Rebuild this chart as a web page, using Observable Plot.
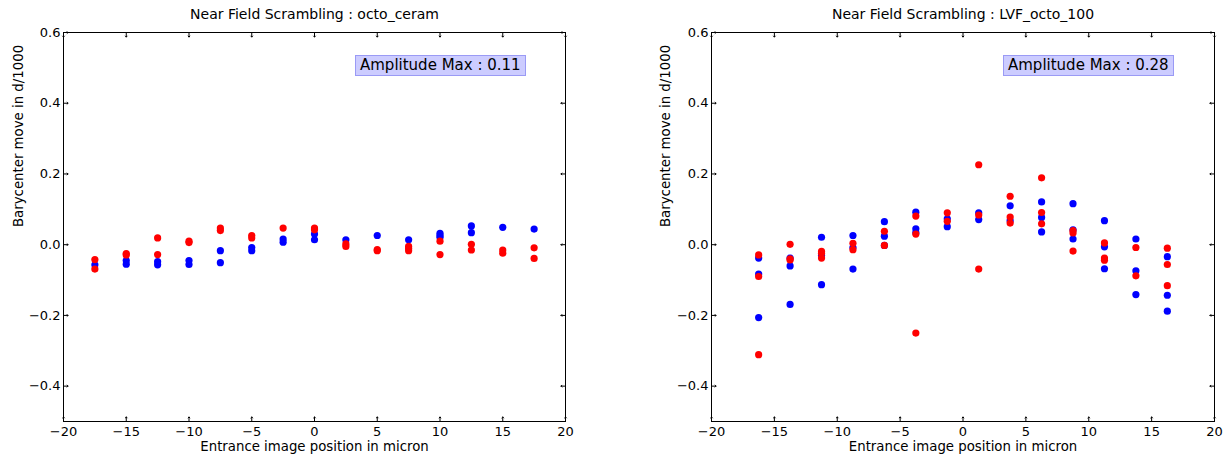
<!DOCTYPE html>
<html>
<head>
<meta charset="utf-8">
<script src="https://cdn.jsdelivr.net/npm/d3@7"></script>
<script src="https://cdn.jsdelivr.net/npm/@observablehq/plot@0.6"></script>
<style>
  html, body { margin: 0; padding: 0; background: #fff; }
  #wrap { position: relative; width: 1232px; height: 457px; font-family: "DejaVu Sans", sans-serif; }
  .panel { position: absolute; top: 0; }
  .amp { position: absolute; box-sizing: border-box; height: 21px; background: #ccccff; border: 1px solid #9a9af5;
         font-family: "DejaVu Sans", sans-serif; font-size: 15px; line-height: 19px; padding: 0 4px; color: #000; white-space: nowrap; }
</style>
</head>
<body>
<div id="wrap"></div>
<script>
// ---- data ----
const titles = ["Near Field Scrambling : octo_ceram", "Near Field Scrambling : LVF_octo_100"];
const amplitudeLabels = ["Amplitude Max : 0.11", "Amplitude Max : 0.28"];
const xLabel = "Entrance image position in micron";
const yLabel = "Barycenter move in d/1000";
const xTicks = [-20, -15, -10, -5, 0, 5, 10, 15, 20];
const yTicks = [-0.4, -0.2, 0.0, 0.2, 0.4, 0.6];

// left panel (octo_ceram)
const leftPositions = [-17.5, -15, -12.5, -10, -7.5, -5, -2.5, 0, 2.5, 5, 7.5, 10, 12.5, 15, 17.5];
const leftBlue = [
  [-0.057], [-0.045, -0.055], [-0.048, -0.057], [-0.045, -0.056], [-0.017, -0.051],
  [-0.008, -0.017], [0.016, 0.007], [0.030, 0.014], [0.014], [0.026],
  [0.014], [0.032, 0.026, 0.021], [0.053, 0.034], [0.049], [0.044]
];
const leftRed = [
  [-0.042, -0.069], [-0.025, -0.029], [0.019, -0.028], [0.010, 0.006], [0.047, 0.040],
  [0.026, 0.019], [0.047], [0.047, 0.042], [0.002, -0.005], [-0.014, -0.017],
  [-0.005, -0.011, -0.017], [0.010, -0.028], [0.001, -0.015], [-0.015, -0.024], [-0.009, -0.039]
];

// right panel (LVF_octo_100)
const rightPositions = [-16.25, -13.75, -11.25, -8.75, -6.25, -3.75, -1.25, 1.25, 3.75, 6.25, 8.75, 11.25, 13.75, 16.25];
const rightBlue = [
  [-0.038, -0.083, -0.206], [-0.038, -0.060, -0.169], [0.021, -0.030, -0.113], [0.026, -0.008, -0.069],
  [0.065, 0.024, -0.002], [0.092, 0.045, 0.034], [0.073, 0.051], [0.090, 0.071],
  [0.110, 0.068], [0.121, 0.077, 0.036], [0.116, 0.042, 0.016], [0.068, -0.006, -0.068],
  [0.016, -0.074, -0.141], [-0.034, -0.143, -0.188]
];
const rightRed = [
  [-0.029, -0.090, -0.311], [0.001, -0.040, -0.043], [-0.019, -0.024, -0.038], [0.004, -0.014],
  [0.038, -0.002], [0.081, 0.030, -0.250], [0.090, 0.066], [0.226, 0.084, -0.069],
  [0.137, 0.078, 0.061], [0.189, 0.091, 0.059], [0.040, 0.033, -0.018], [0.005, -0.038, -0.044],
  [-0.008, -0.088], [-0.010, -0.056, -0.116]
];

// ---- build tidy rows ----
function rows(positions, blue, red) {
  const out = [];
  positions.forEach((x, i) => { blue[i].forEach(y => out.push({x, y, c: "blue"})); });
  positions.forEach((x, i) => { red[i].forEach(y => out.push({x, y, c: "red"})); });
  return out;
}

const panels = [
  {left: 0, marginLeft: 63, marginRight: 51, ylabelDx: -45, data: rows(leftPositions, leftBlue, leftRed), ampLeft: 355},
  {left: 616, marginLeft: 95, marginRight: 18, ylabelDx: -46, data: rows(rightPositions, rightBlue, rightRed), ampLeft: 1003}
];

const wrap = document.getElementById("wrap");
const fmtX = d3.format("d");
const fmtY = d3.format(".1f");
const tickLen = 4.5;

panels.forEach((p, i) => {
  const chart = Plot.plot({
    width: 616,
    height: 457,
    marginLeft: p.marginLeft,
    marginRight: p.marginRight,
    marginTop: 32,
    marginBottom: 36,
    style: {fontFamily: "DejaVu Sans, sans-serif", fontSize: "13px", background: "white", color: "black"},
    x: {domain: [-20, 20]},
    y: {domain: [-0.5, 0.6]},
    color: {domain: ["blue", "red"], range: ["#0000ff", "#ff0000"]},
    marks: [
      Plot.axisX(xTicks, {anchor: "bottom", tickSize: 0, tickPadding: 5, tickFormat: fmtX, label: null, fontSize: 13}),
      Plot.axisY(yTicks, {anchor: "left", tickSize: 0, tickPadding: 3, tickFormat: fmtY, label: null, fontSize: 13}),
      // inward ticks on all four sides
      Plot.vector(xTicks, {x: d => d, frameAnchor: "bottom", length: tickLen, rotate: 0, anchor: "start", stroke: "black", strokeWidth: 1}),
      Plot.vector(xTicks, {x: d => d, frameAnchor: "top", length: tickLen, rotate: 180, anchor: "start", stroke: "black", strokeWidth: 1}),
      Plot.vector(yTicks, {y: d => d, frameAnchor: "left", length: tickLen, rotate: 90, anchor: "start", stroke: "black", strokeWidth: 1}),
      Plot.vector(yTicks, {y: d => d, frameAnchor: "right", length: tickLen, rotate: 270, anchor: "start", stroke: "black", strokeWidth: 1}),
      Plot.dot(p.data, {x: "x", y: "y", fill: "c", r: 3.6, stroke: null}),
      Plot.frame({stroke: "black", strokeWidth: 1}),
      Plot.text([titles[i]], {text: d => d, frameAnchor: "top", dy: -18, fontSize: 14, lineAnchor: "middle"}),
      Plot.text([xLabel], {text: d => d, frameAnchor: "bottom", dy: 25, fontSize: 13.3, lineAnchor: "middle"}),
      Plot.text([yLabel], {text: d => d, frameAnchor: "left", dx: p.ylabelDx, rotate: -90, fontSize: 13.3, lineAnchor: "middle"})
    ]
  });
  const div = document.createElement("div");
  div.className = "panel";
  div.style.left = p.left + "px";
  div.appendChild(chart);
  wrap.appendChild(div);

  const amp = document.createElement("div");
  amp.className = "amp";
  amp.style.left = p.ampLeft + "px";
  amp.style.top = "55px";
  amp.textContent = amplitudeLabels[i];
  wrap.appendChild(amp);
});
</script>
</body>
</html>
